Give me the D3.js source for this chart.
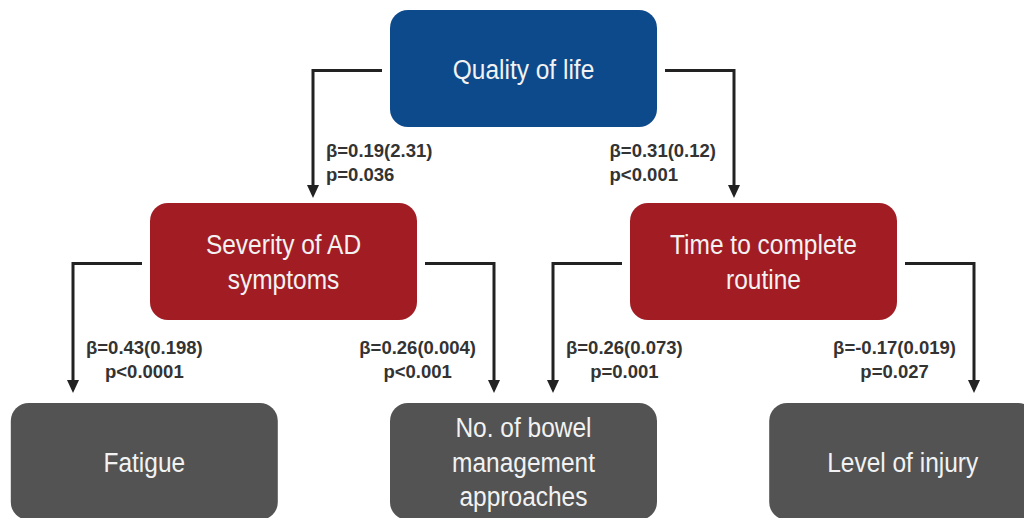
<!DOCTYPE html>
<html>
<head>
<meta charset="utf-8">
<script src="https://cdn.jsdelivr.net/npm/d3@7"></script>
<style>
  body { margin: 0; background: #fff; }
  svg { display: block; font-family: "Liberation Sans", Arial, sans-serif; }
</style>
</head>
<body>
<svg id="chart" width="1024" height="518"></svg>
<script>
// nodes of the path model
var nodeLines = [
  ["Quality of life"],
  ["Severity of AD", "symptoms"],
  ["Time to complete", "routine"],
  ["Fatigue"],
  ["No. of bowel", "management", "approaches"],
  ["Level of injury"]
];
var nodeLevel = [0, 1, 1, 2, 2, 2];
var nodeCol = [0, -1, 1, -1.58, 0, 1.58];
var nodeKind = ["outcome", "mediator", "mediator", "factor", "factor", "factor"];

// paths between nodes
var edgeFrom = [0, 0, 1, 1, 2, 2];
var edgeTo = [1, 2, 3, 4, 4, 5];
var edgeBeta = ["0.19", "0.31", "0.43", "0.26", "0.26", "-0.17"];
var edgeSE = ["2.31", "0.12", "0.198", "0.004", "0.073", "0.019"];
var edgeP = ["p=0.036", "p<0.001", "p<0.0001", "p<0.001", "p=0.001", "p=0.027"];

var boxW = 267, boxH = 117;
var x = d3.scaleLinear().domain([-1, 1]).range([283.5, 763.5]);
var y = d3.scaleOrdinal().domain([0, 1, 2]).range([68.5, 261.5, 461.5]);
var colour = d3.scaleOrdinal()
  .domain(["outcome", "mediator", "factor"])
  .range(["#0d4a8c", "#a21c24", "#535353"]);

var svg = d3.select("#chart");

var nodes = nodeLines.map(function(lines, i){
  return {lines: lines, cx: x(nodeCol[i]), cy: y(nodeLevel[i]), kind: nodeKind[i]};
});

// boxes
var g = svg.selectAll("g.node").data(nodes).enter().append("g").attr("class", "node");
g.append("rect")
  .attr("x", function(d){ return d.cx - boxW/2; })
  .attr("y", function(d){ return d.cy - boxH/2; })
  .attr("width", boxW).attr("height", boxH)
  .attr("rx", 18).attr("ry", 18)
  .style("fill", function(d){ return colour(d.kind); });
g.each(function(d){
  var n = d.lines.length, lh = 34.5;
  d3.select(this).selectAll("text").data(d.lines).enter().append("text")
    .attr("transform", function(t, j){
      return "translate(" + d.cx + "," + (d.cy + (j - (n-1)/2)*lh + 10) + ") scale(0.875,1)";
    })
    .attr("text-anchor", "middle")
    .style("font-size", "28px")
    .style("fill", "#f2f2f2")
    .text(function(t){ return t; });
});

// connectors
var edges = edgeFrom.map(function(f, i){
  var p = nodes[f], c = nodes[edgeTo[i]];
  var side = c.cx < p.cx ? -1 : 1;
  var startX = p.cx + side*(boxW/2 + 8);
  var cornerX = p.cx + side*(boxW/2 + 77);
  var tipY = c.cy - boxH/2 - (nodeLevel[edgeTo[i]] === 1 ? 5 : 10);
  return {side: side, startX: startX, cornerX: cornerX, y0: p.cy + 2, tipY: tipY,
    level: nodeLevel[f], mid: (p.cy + boxH/2 + c.cy - boxH/2)/2,
    beta: "\u03b2=" + edgeBeta[i] + "(" + edgeSE[i] + ")", p: edgeP[i]};
});

var headL = 13, headW = 6;
svg.selectAll("path.link").data(edges).enter().append("path")
  .attr("class", "link")
  .attr("d", function(d){
    return d3.line()([[d.startX, d.y0], [d.cornerX, d.y0], [d.cornerX, d.tipY - headL + 1]]);
  })
  .style("fill", "none").style("stroke", "#222").style("stroke-width", 3);
svg.selectAll("path.head").data(edges).enter().append("path")
  .attr("class", "head")
  .attr("d", function(d){
    return d3.line()([[d.cornerX - headW, d.tipY - headL], [d.cornerX + headW, d.tipY - headL], [d.cornerX, d.tipY]]) + "Z";
  })
  .style("fill", "#222");

// coefficient labels
var lab = svg.selectAll("g.label").data(edges).enter().append("g").attr("class", "label")
  .style("font-size", "18.5px").style("font-weight", "bold").style("fill", "#333");
lab.each(function(d){
  var el = d3.select(this);
  var b = el.append("text").text(d.beta).attr("y", d.mid - 8);
  var pt = el.append("text").text(d.p).attr("y", d.mid + 16);
  var w = b.node().getComputedTextLength();
  var left = d.side < 0 ? d.cornerX + 13 : d.cornerX - 18 - w;
  if (d.level === 0) {
    b.attr("x", left); pt.attr("x", left);
  } else {
    b.attr("x", left + w/2).attr("text-anchor", "middle");
    pt.attr("x", left + w/2).attr("text-anchor", "middle");
  }
});
</script>
</body>
</html>
